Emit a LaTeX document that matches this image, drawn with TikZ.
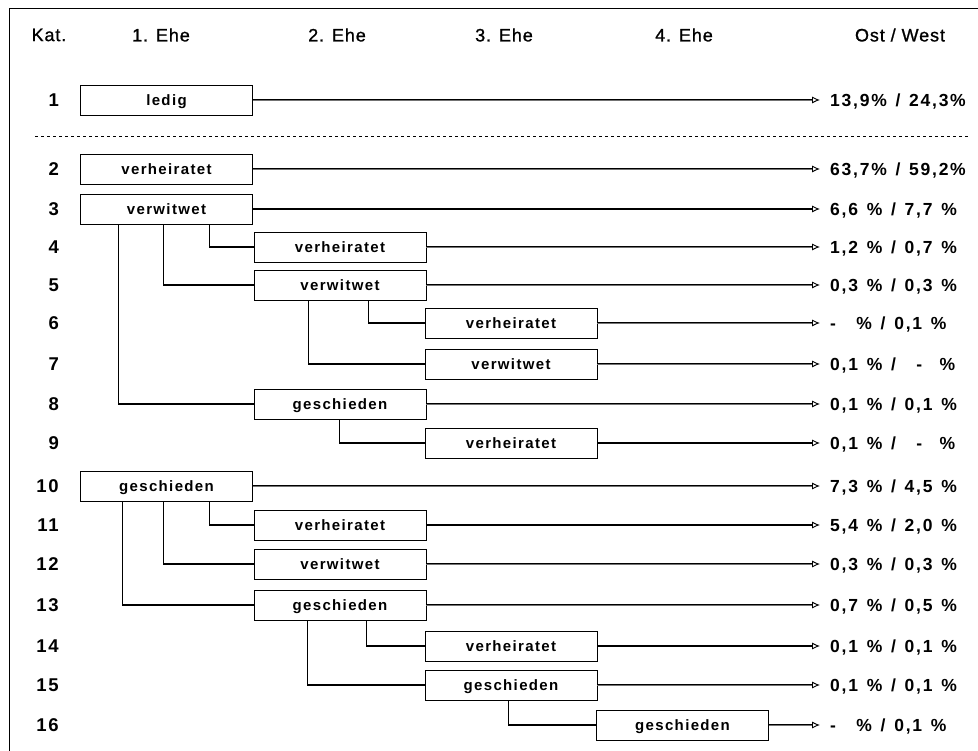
\documentclass[tikz,border=0pt]{standalone}
\usepackage{fontspec}
\setmainfont{Liberation Sans}
\newfontfamily\boxfont[LetterSpace=9]{Liberation Sans}
\newfontfamily\quotefont[LetterSpace=10]{Liberation Sans}
\newfontfamily\headfont[LetterSpace=5,FakeBold=1]{Liberation Sans}
\newcommand{\gap}{\enspace}
\usetikzlibrary{arrows.meta}
\tikzset{
  ehebox/.style={draw,line width=0.9pt,minimum width=172pt,minimum height=30pt,inner sep=0pt,text depth=0pt,font=\boxfont\bfseries\fontsize{15}{17}\selectfont},
  flow/.style={line width=0.7pt,double=black!55,double distance=0.9pt,-{Latex[open,length=8pt,width=7pt,line width=0.9pt]}},
  flowsolid/.style={line width=1.5pt,-{Latex[open,length=8pt,width=7pt,line width=0.9pt]}},
  link/.style={line width=1.1pt},
  head/.style={inner sep=0pt,font=\headfont\fontsize{18}{20}\selectfont},
  kat/.style={anchor=east,inner sep=0pt,font=\quotefont\bfseries\fontsize{18.5}{20}\selectfont},
  quote/.style={anchor=west,inner xsep=10pt,inner ysep=0pt,text depth=0pt,font=\quotefont\bfseries\fontsize{17.5}{19}\selectfont}
}
\begin{document}
\begin{tikzpicture}[x=1pt,y=-1pt]
			\useasboundingbox (0,0) rectangle (978,751);
			% frame
			\draw[line width=0.9pt] (9,751) -- (9,8) -- (978,8);
			% headers
			\node[head] (hkat) at (49,35) {Kat.};
			\node[head] (h1) at (161,35) {1. Ehe};
			\node[head] (h2) at (337,35) {2. Ehe};
			\node[head] (h3) at (504,35) {3. Ehe};
			\node[head] (h4) at (684,35) {4. Ehe};
			\node[head] (hostwest) at (900,35) {Ost / West};
			% separator
			\draw[line width=0.6pt,dash pattern=on 3pt off 3pt] (35,136) -- (968,136);
			% categories and shares
			\foreach \n/\y/\q in {1/100/{13,9\%\gap/\gap24,3\%},2/169/{63,7\%\gap/\gap59,2\%},3/209/{6,6\gap\%\gap/\gap7,7\gap\%},
				4/247/{1,2\gap\%\gap/\gap0,7\gap\%},5/285/{0,3\gap\%\gap/\gap0,3\gap\%},6/323/{-\quad\,\%\gap/\gap0,1\gap\%},
				7/364/{0,1\gap\%\gap/\quad\,-\quad\%},8/404/{0,1\gap\%\gap/\gap0,1\gap\%},9/443/{0,1\gap\%\gap/\quad\,-\quad\%},
				10/486/{7,3\gap\%\gap/\gap4,5\gap\%},11/525/{5,4\gap\%\gap/\gap2,0\gap\%},12/564/{0,3\gap\%\gap/\gap0,3\gap\%},
				13/605/{0,7\gap\%\gap/\gap0,5\gap\%},14/646/{0,1\gap\%\gap/\gap0,1\gap\%},15/685/{0,1\gap\%\gap/\gap0,1\gap\%},
				16/725/{-\quad\,\%\gap/\gap0,1\gap\%}}{
				\node[kat] (n\n) at (59,\y) {\n};
				\node[quote] (p\n) at (820,\y) {\q};
			}
			% marriage boxes
			\node[ehebox] (k1) at (166.5,100) {ledig};
			\node[ehebox] (k2) at (166.5,169) {verheiratet};
			\node[ehebox] (k3) at (166.5,209) {verwitwet};
			\node[ehebox] (k4) at (340,247) {verheiratet};
			\node[ehebox] (k5) at (340,285) {verwitwet};
			\node[ehebox] (k6) at (511,323) {verheiratet};
			\node[ehebox] (k7) at (511,364) {verwitwet};
			\node[ehebox] (k8) at (340,404) {geschieden};
			\node[ehebox] (k9) at (511,443) {verheiratet};
			\node[ehebox] (k10) at (166.5,486) {geschieden};
			\node[ehebox] (k11) at (340,525) {verheiratet};
			\node[ehebox] (k12) at (340,564) {verwitwet};
			\node[ehebox] (k13) at (340,605) {geschieden};
			\node[ehebox] (k14) at (511,646) {verheiratet};
			\node[ehebox] (k15) at (511,685) {geschieden};
			\node[ehebox] (k16) at (682.5,725) {geschieden};
			% branches
			\draw[link] ([xshift=38pt]k3.south west) |- (k8.west);
			\draw[link] ([xshift=83pt]k3.south west) |- (k5.west);
			\draw[link] ([xshift=129pt]k3.south west) |- (k4.west);
			\draw[link] ([xshift=55pt]k5.south west) |- (k7.west);
			\draw[link] ([xshift=115pt]k5.south west) |- (k6.west);
			\draw[link] ([xshift=86pt]k8.south west) |- (k9.west);
			\draw[link] ([xshift=42pt]k10.south west) |- (k13.west);
			\draw[link] ([xshift=83pt]k10.south west) |- (k12.west);
			\draw[link] ([xshift=129pt]k10.south west) |- (k11.west);
			\draw[link] ([xshift=54pt]k13.south west) |- (k15.west);
			\draw[link] ([xshift=113pt]k13.south west) |- (k14.west);
			\draw[link] ([xshift=84pt]k15.south west) |- (k16.west);
			% flows to shares
			\foreach \n in {1,2,4,5,6,7,8,10,12,13,15,16}
				\draw[flow] (k\n.east) -- (p\n.west);
			\foreach \n in {3,9,11,14}
				\draw[flowsolid] (k\n.east) -- (p\n.west);
\end{tikzpicture}
\end{document}
